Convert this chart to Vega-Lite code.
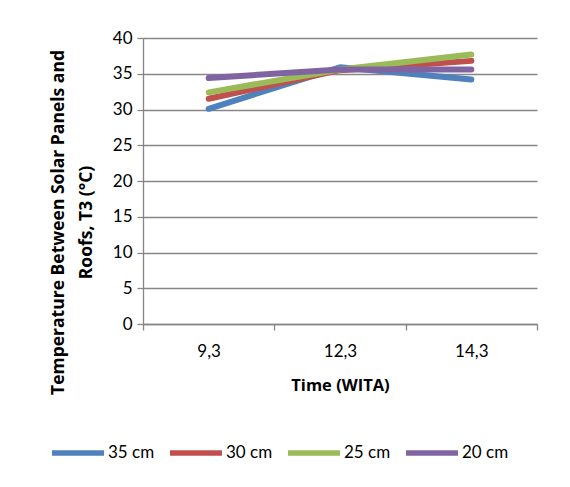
{
  "$schema": "https://vega.github.io/schema/vega-lite/v6.json",
  "width": 394,
  "height": 286,
  "autosize": {"type": "none"},
  "padding": {"left": 143, "top": 38, "right": 33, "bottom": 163},
  "background": "white",
  "config": {
    "font": "Lato",
    "view": {"stroke": null},
    "axis": {"labelFont": "Lato", "titleFont": "Open Sans", "labelColor": "#000", "titleColor": "#000"}
  },
  "data": {"values": [
    {"time": "9,3", "series": "35 cm", "temp": 30.1},
    {"time": "12,3", "series": "35 cm", "temp": 35.9},
    {"time": "14,3", "series": "35 cm", "temp": 34.2},
    {"time": "9,3", "series": "30 cm", "temp": 31.5},
    {"time": "12,3", "series": "30 cm", "temp": 35.5},
    {"time": "14,3", "series": "30 cm", "temp": 36.8},
    {"time": "9,3", "series": "25 cm", "temp": 32.4},
    {"time": "12,3", "series": "25 cm", "temp": 35.6},
    {"time": "14,3", "series": "25 cm", "temp": 37.7},
    {"time": "9,3", "series": "20 cm", "temp": 34.4},
    {"time": "12,3", "series": "20 cm", "temp": 35.6},
    {"time": "14,3", "series": "20 cm", "temp": 35.6}
  ]},
  "mark": {"type": "line", "strokeWidth": 6, "strokeCap": "round", "strokeJoin": "round"},
  "encoding": {
    "x": {
      "field": "time", "type": "ordinal", "sort": ["9,3", "12,3", "14,3"],
      "bandPosition": 0.5,
      "scale": {"type": "band", "paddingInner": 0, "paddingOuter": 0},
      "axis": {
        "title": "Time (WITA)", "titleFontSize": 16.5, "titleFontWeight": "bold", "titlePadding": 18,
        "labelAngle": 0, "labelFontSize": 17, "labelPadding": 13,
        "tickBand": "extent", "ticks": true, "tickSize": 6, "tickColor": "#868686", "tickWidth": 1.3,
        "domainColor": "#868686", "domainWidth": 1.3, "grid": false
      }
    },
    "y": {
      "field": "temp", "type": "quantitative",
      "scale": {"domain": [0, 40], "nice": false},
      "axis": {
        "title": ["Temperature Between Solar Panels and", "Roofs, T3 (°C)"],
        "titleFontSize": 17.5, "titleFontWeight": "bold", "titleLineHeight": 28,
        "titleX": -85, "titleY": 184, "titleAlign": "center", "titleAngle": 270, "titleBaseline": "middle",
        "values": [0, 5, 10, 15, 20, 25, 30, 35, 40], "labelFontSize": 17, "labelPadding": 5,
        "tickSize": 6, "tickColor": "#868686", "tickWidth": 1.3,
        "domainColor": "#868686", "domainWidth": 1.3,
        "grid": true, "gridColor": "#868686", "gridWidth": 1.3
      }
    },
    "color": {
      "field": "series", "type": "nominal",
      "sort": ["35 cm", "30 cm", "25 cm", "20 cm"],
      "scale": {"domain": ["35 cm", "30 cm", "25 cm", "20 cm"], "range": ["#4F81BD", "#C0504D", "#9BBB59", "#8064A2"]},
      "legend": {
        "title": null, "orient": "none", "direction": "horizontal",
        "legendX": -94, "legendY": 386,
        "symbolType": "stroke", "symbolSize": 2700, "symbolStrokeWidth": 5.5,
        "labelFontSize": 17, "labelFont": "Lato", "labelColor": "#000", "labelOffset": 1,
        "columnPadding": 4
      }
    }
  }
}
